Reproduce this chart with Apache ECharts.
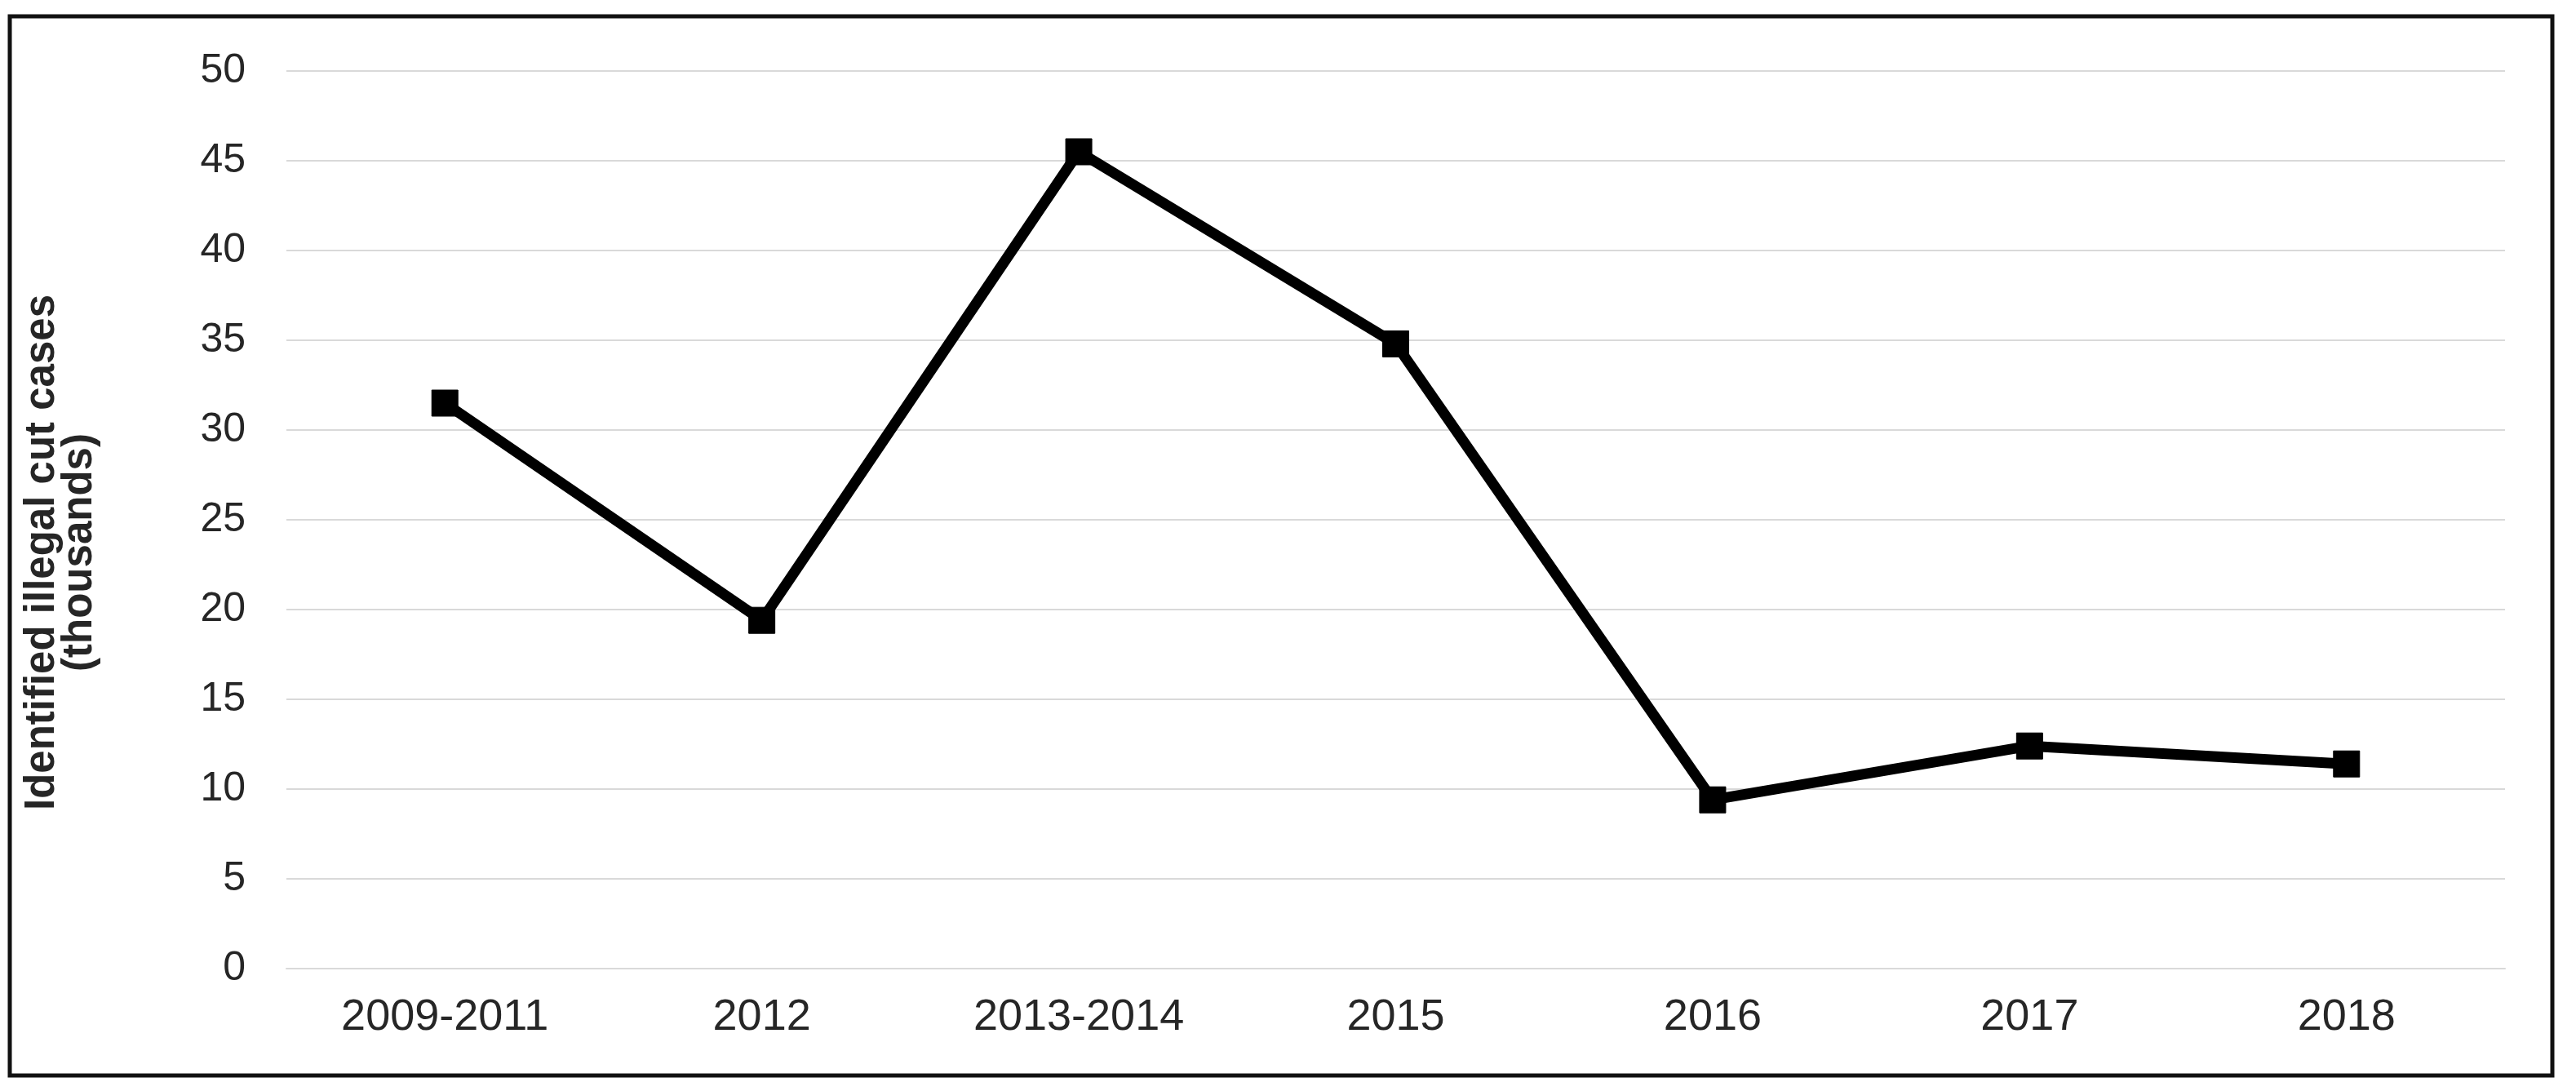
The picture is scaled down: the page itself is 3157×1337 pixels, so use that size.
<!DOCTYPE html>
<html>
<head>
<meta charset="utf-8">
<script src="https://cdn.jsdelivr.net/npm/echarts@6/dist/echarts.min.js"></script>
<style>
html,body{margin:0;padding:0;background:#fff;}
#chart{width:3157px;height:1337px;}
</style>
</head>
<body>
<div id="chart"></div>
<script>
const categories = ['2009-2011', '2012', '2013-2014', '2015', '2016', '2017', '2018'];
const caseValues = [31.5, 19.4, 45.5, 34.8, 9.4, 12.4, 11.4];
const yAxisTitle = 'Identified illegal cut cases\n(thousands)';

const chart = echarts.init(document.getElementById('chart'), null, {renderer: 'canvas'});
chart.setOption({
  backgroundColor: '#ffffff',
  animation: false,
  graphic: [{
    type: 'rect',
    shape: {x: 12, y: 20, width: 3116, height: 1298},
    style: {fill: 'none', stroke: '#111', lineWidth: 5},
    z: 100
  }],
  grid: {left: 351, right: 87, top: 87, bottom: 150, containLabel: false},
  xAxis: {
    type: 'category',
    data: categories,
    boundaryGap: true,
    axisLine: {show: true, lineStyle: {color: '#d9d9d9', width: 2}},
    axisTick: {show: false},
    axisLabel: {color: '#262626', fontFamily: 'Liberation Sans, Arial, sans-serif', fontSize: 54, margin: 33}
  },
  yAxis: {
    type: 'value',
    min: 0, max: 50, interval: 5,
    name: yAxisTitle,
    nameLocation: 'middle',
    nameGap: 230,
    nameTextStyle: {color: '#262626', fontFamily: 'Liberation Sans, Arial, sans-serif', fontSize: 51, fontWeight: 'bold', lineHeight: 46, align: 'center', padding: [0, 80, 0, 0]},
    axisLine: {show: false},
    axisTick: {show: false},
    axisLabel: {color: '#262626', fontFamily: 'Liberation Sans, Arial, sans-serif', fontSize: 50, margin: 50},
    splitLine: {show: true, lineStyle: {color: '#d9d9d9', width: 2}}
  },
  series: [{
    type: 'line',
    data: caseValues,
    symbol: 'rect',
    symbolSize: 32,
    showAllSymbol: true,
    lineStyle: {color: '#000', width: 13},
    itemStyle: {color: '#000', borderColor: '#000'},
    z: 10
  }]
});
</script>
</body>
</html>
